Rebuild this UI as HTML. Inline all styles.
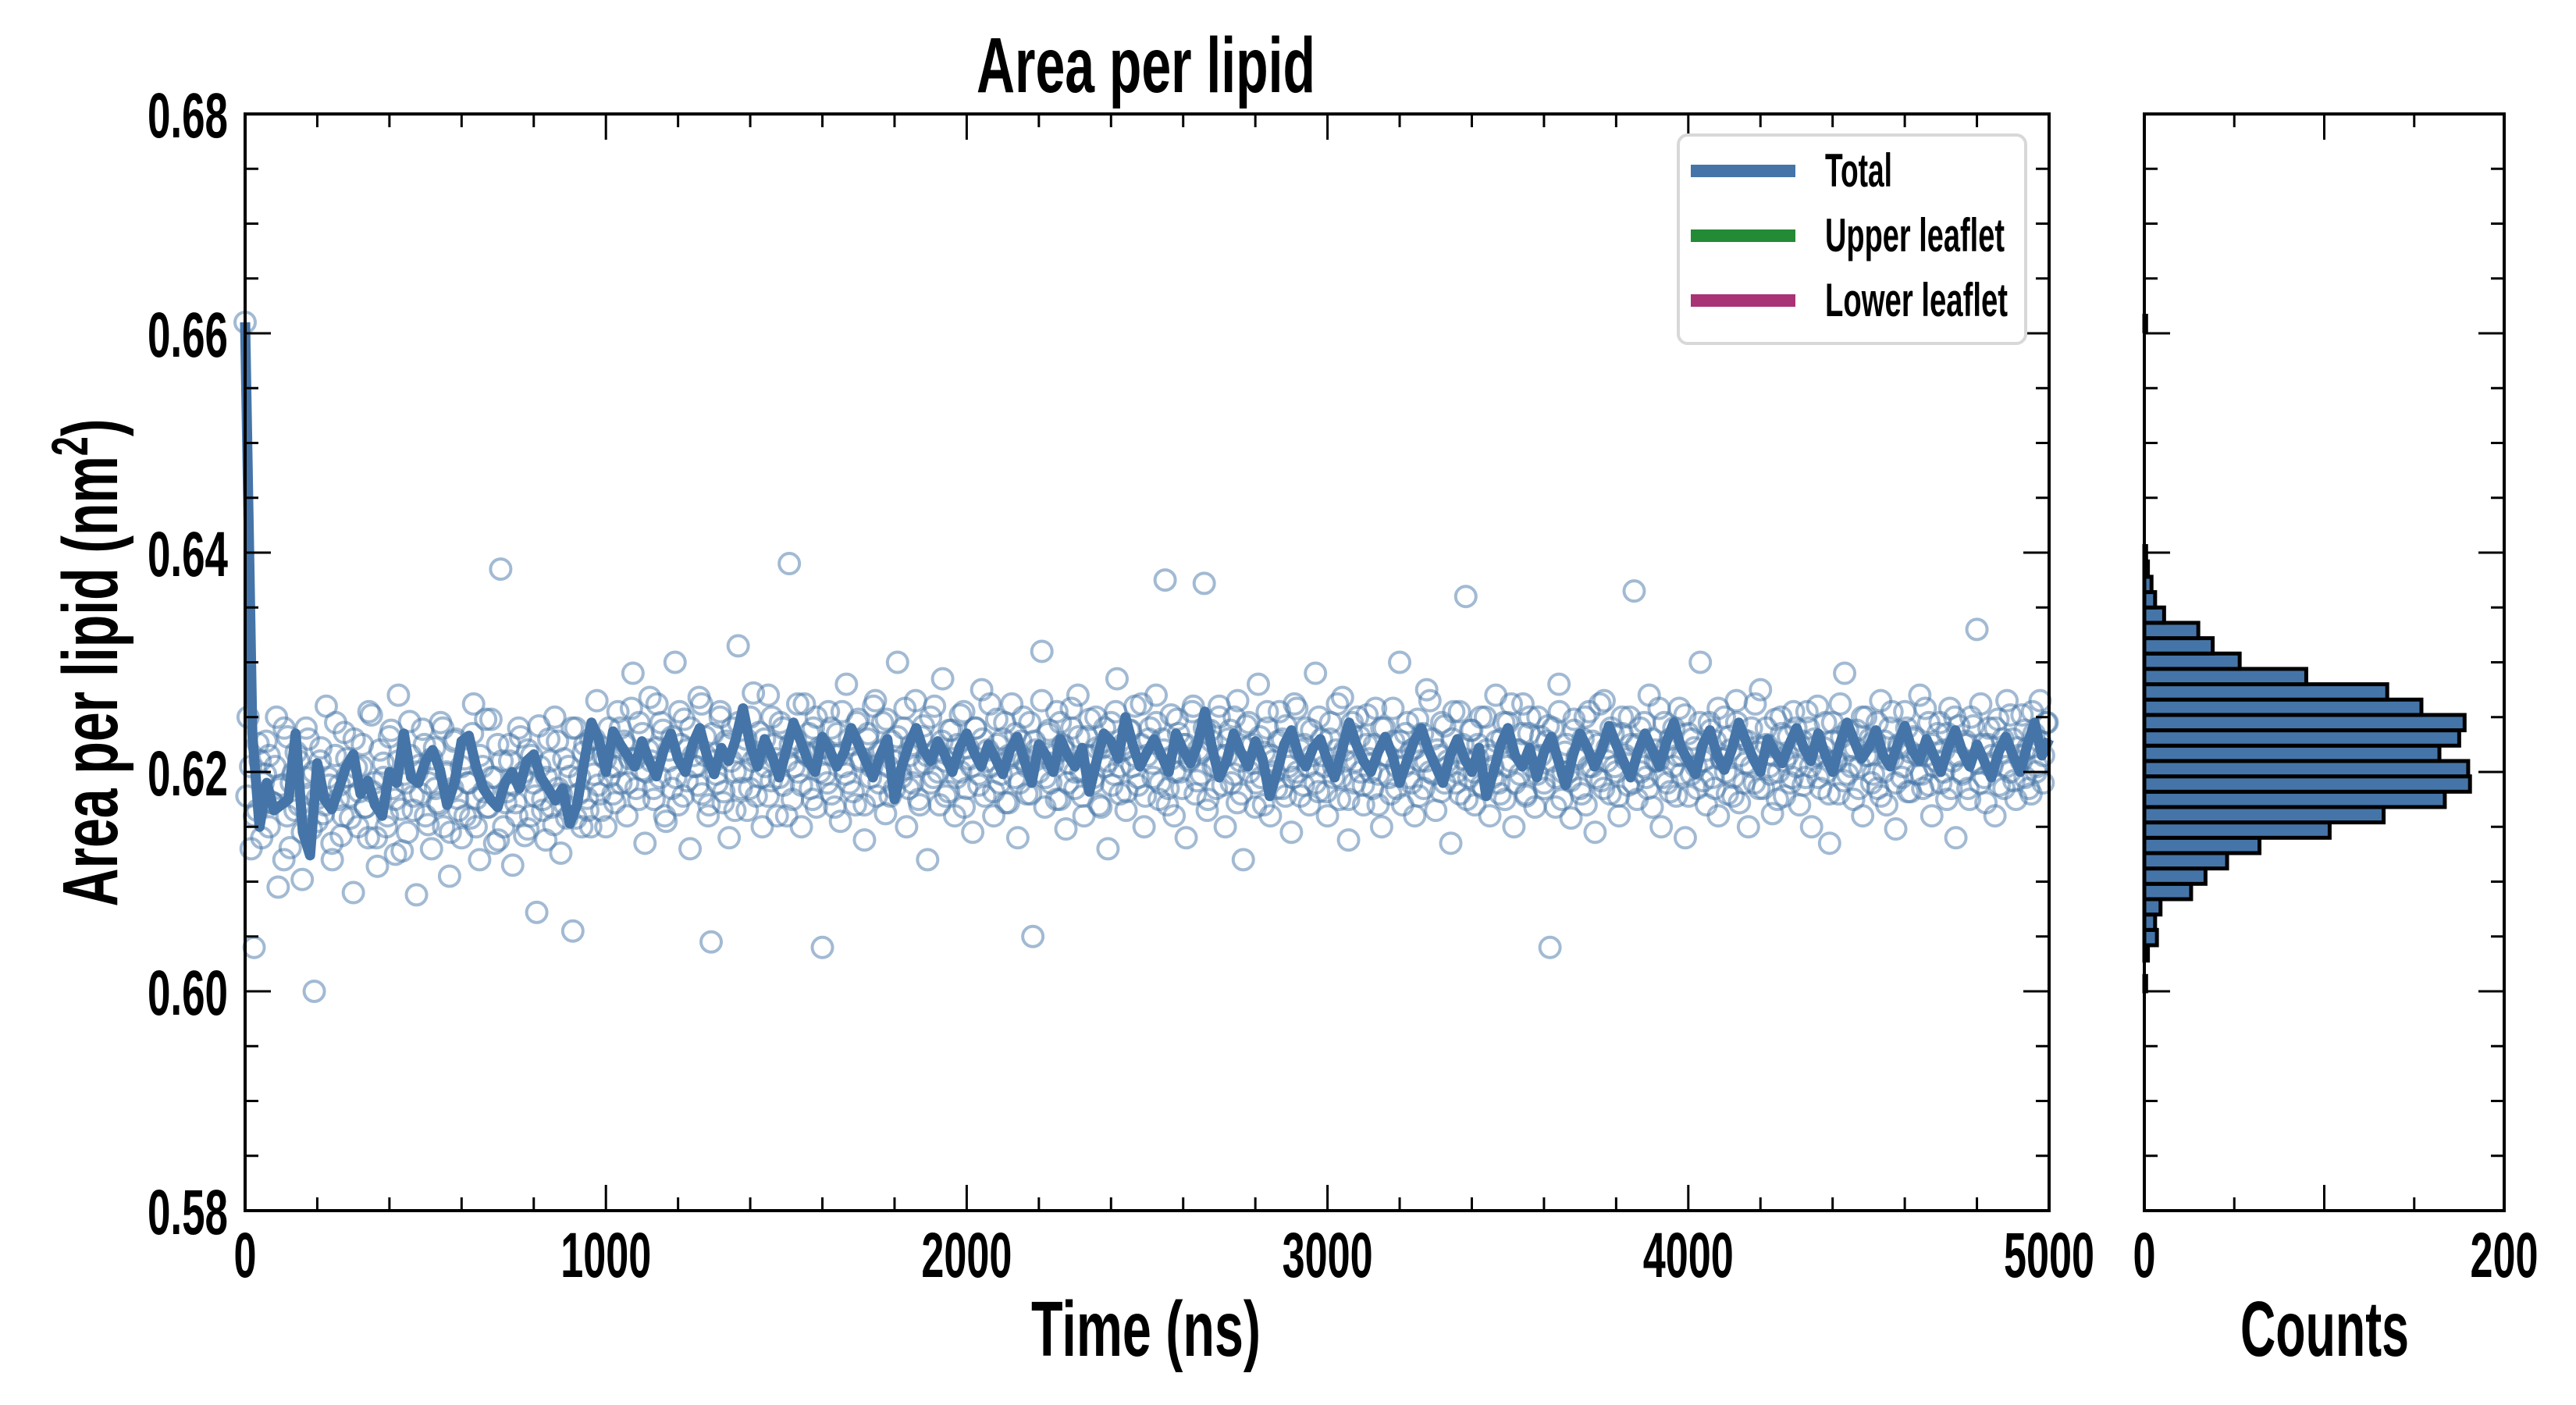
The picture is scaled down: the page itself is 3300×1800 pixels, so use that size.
<!DOCTYPE html>
<html><head><meta charset="utf-8">
<style>
html,body{margin:0;padding:0;background:#fff;}
svg{display:block;}
text{font-family:"Liberation Sans Narrow","Liberation Sans",sans-serif;font-weight:bold;fill:#000;}
</style></head>
<body>
<svg id="chart" xmlns="http://www.w3.org/2000/svg" width="3300" height="1800" viewBox="0 0 3300 1800">
<rect width="3300" height="1800" fill="#fff"/>
<text x="1468" y="118" font-size="100" text-anchor="middle" textLength="434" lengthAdjust="spacingAndGlyphs">Area per lipid</text>
<text x="1468" y="1737" font-size="100" text-anchor="middle" textLength="294" lengthAdjust="spacingAndGlyphs">Time (ns)</text>
<text x="2978" y="1737" font-size="100" text-anchor="middle" textLength="216" lengthAdjust="spacingAndGlyphs">Counts</text>
<text transform="translate(150,849) rotate(-90)" font-size="100" text-anchor="middle" textLength="625" lengthAdjust="spacingAndGlyphs">Area per lipid (nm<tspan font-size="66" dy="-38">2</tspan><tspan dy="38">)</tspan></text>
<g id="main"></g>
<g id="hist"></g>
<g>
<rect x="2150" y="173" width="445" height="267" rx="12" fill="#fff" stroke="#d8d8d8" stroke-width="4"/>
<rect x="2166" y="211" width="134" height="16" fill="#4575a8"/>
<text x="2338" y="239" font-size="60" textLength="86" lengthAdjust="spacingAndGlyphs">Total</text>
<rect x="2166" y="294" width="134" height="16" fill="#238a35"/>
<text x="2338" y="322" font-size="60" textLength="230" lengthAdjust="spacingAndGlyphs">Upper leaflet</text>
<rect x="2166" y="377" width="134" height="16" fill="#a83375"/>
<text x="2338" y="405" font-size="60" textLength="234" lengthAdjust="spacingAndGlyphs">Lower leaflet</text>
</g>
</svg>
<script>
// ---- data (values in units of 0.0001 nm^2 above 0.60) ----
const yTickLabels = ["0.58","0.60","0.62","0.64","0.66","0.68"];
const xTickLabels = ["0","1000","2000","3000","4000","5000"];
const histTickLabels = ["0","200"];
const timeMax = 5000;
const scatterValues = [
610,250,130,40,165,210,190,228,150,172,205,95,188,240,160,131,199,218,170,102,
195,230,148,0,176,210,162,260,188,120,215,175,142,236,196,158,90,204,182,225,
168,140,252,190,114,176,208,150,232,185,125,270,166,198,145,215,178,88,206,239,
160,190,130,222,172,245,150,200,105,185,230,165,140,212,190,158,262,176,120,205,
248,168,195,135,225,385,150,182,210,115,172,240,195,142,220,160,190,72,205,175,
138,230,168,250,185,126,212,158,196,55,240,180,150,225,165,
230,198,265,180,215,150,240,205,172,255,190,228,160,212,290,185,245,202,135,220,
210,175,262,195,238,155,220,185,300,170,225,248,192,130,215,205,268,180,232,160,
45,210,190,255,172,228,140,240,200,315,185,220,165,250,210,178,236,150,205,270,
192,225,160,245,188,210,390,175,230,200,150,262,215,185,240,168,222,40,198,255,
180,215,235,155,205,280,190,225,170,248,212,138,230,195,260,178,218,245,162,205,
228,185,300,200,240,150,215,190,265,175,232,208,120,250,195,220,170,285,210,182,
238,160,225,200,255,185,212,145,240,198,275,178,220,205,160,248,190,230,172,215,
262,195,140,228,210,180,245,50,220,200,310,168,235,190,215,255,175,225,148,208,
240,185,270,200,160,232,215,190,250,170,222,205,130,245,198,285,180,220,165,238,
205,260,188,225,150,215,240,195,270,175,230,375,185,212,160,248,200,225,140,210,
255,180,220,198,372,165,238,205,185,260,215,150,230,190,250,172,210,120,242,200,
225,168,280,195,218,240,160,210,185,255,230,178,205,145,262,200,220,188,240,170,
215,290,182,230,205,160,245,195,220,175,268,210,138,235,190,250,200,170,225,212,
185,258,198,150,240,215,180,228,205,300,170,235,195,220,160,248,210,185,275,200,
230,165,215,245,190,210,135,255,200,180,225,360,195,238,170,212,250,185,220,160,
205,270,190,230,175,245,210,150,220,198,262,180,235,205,168,250,215,190,228,40,
240,195,280,175,218,200,158,248,212,185,230,170,255,205,145,225,192,265,210,180,
235,200,160,250,215,188,225,365,175,240,205,195,270,168,220,210,150,245,190,230,
205,178,258,215,140,235,198,222,185,300,210,170,245,195,228,160,212,250,180,220,
195,265,172,230,208,150,240,190,218,275,185,225,205,162,248,200,235,178,215,190,
255,205,170,228,195,240,150,215,260,185,222,200,135,245,210,180,232,290,198,220,
175,238,205,160,250,215,190,228,185,265,200,170,240,212,148,225,195,255,182,218,
230,198,270,185,215,245,160,205,235,190,220,175,258,210,140,242,200,225,185,250,
210,330,190,225,172,240,205,160,248,218,185,265,200,230,175,215,252,195,222,180,
235,205,265,190,245];
const scatterValues2 = [
178,205,160,226,140,198,215,172,250,185,120,232,190,165,210,145,240,180,200,155,
222,170,195,135,245,188,160,212,178,230,150,205,168,255,182,140,220,195,160,238,
175,210,128,190,246,165,200,180,225,152,212,185,170,240,198,145,228,176,205,160,
190,235,150,215,182,168,248,195,138,210,172,225,188,160,232,200,148,215,178,242,
165,195,210,152,228,180,170,205,240,158,195,218,176,150,230,188,165,212,196,180,
205,240,225,190,258,212,175,235,200,268,185,222,245,160,210,232,195,255,178,220,
240,205,188,262,215,170,235,198,250,182,225,210,165,245,200,230,185,272,215,195,
230,178,250,212,195,240,160,225,205,262,188,218,235,175,250,200,222,190,240,168,
215,255,198,230,182,245,210,170,235,205,265,190,220,248,178,210,232,195,258,185,
225,205,170,242,215,190,260,200,228,178,238,212,195,252,168,222,205,240,188,230,
210,262,182,225,198,245,172,215,235,190,250,205,180,228,215,265,195,238,208,175,
245,220,190,258,200,232,178,215,248,195,222,168,240,210,188,255,205,225,182,238,
215,195,262,178,230,208,245,190,220,170,252,200,235,185,225,212,260,192,218,240,
175,228,205,250,188,215,238,198,265,180,222,245,208,190,232,170,255,215,200,228,
185,242,210,195,258,178,225,205,238,190,250,215,182,230,205,262,195,220,175,245,
210,232,188,252,200,225,170,240,215,195,258,185,228,205,245,190,222,178,235,210,
265,198,220,182,242,205,230,190,255,212,175,238,200,225,188,250,215,195,228,180,
245,205,262,190,220,235,178,250,212,198,232,185,242,210,168,255,200,225,192,238,
215,180,250,205,228,195,262,185,222,240,205,178,235,212,250,190,225,200,245,185,
230,210,258,195,222,182,240,215,198,252,178,230,205,245,192,220,238,185,258,212,
200,232,178,245,215,190,228,205,262,185,222,240,198,215,175,250,210,232,195,240,
225,188,255,205,230,195,215,245,180,228,210,262,192,238,205,222,185,250,215,230,
198,245,178,228,212,255,190,222,205,240,182,232,215,198,258,188,225,210,245,200,
235,185,250,215,198,228,175,242,208,262,195,225,215,240,188,230,205,252,192,222,
210,238,185,255,200,228,215,245];
const lineValues = [
610,235,150,190,165,170,175,235,145,124,208,175,166,185,205,216,180,192,170,160,
200,190,235,195,190,210,220,202,170,190,228,233,205,185,175,168,190,200,185,210,
216,195,185,174,185,153,170,210,245,230,200,237,225,215,205,228,210,196,220,235,
212,200,225,240,215,198,222,210,230,258,225,205,230,215,195,220,245,228,210,200,
232,220,205,218,240,225,210,195,215,230,175,205,225,240,220,210,228,215,200,222,
235,218,205,225,212,198,220,232,210,190,225,215,200,230,215,205,222,182,210,235,
228,212,250,225,205,218,230,215,200,235,220,208,225,255,222,195,210,235,218,205,
228,212,178,200,225,238,215,205,222,230,210,195,220,245,225,210,200,218,232,215,
190,210,228,240,220,205,190,215,230,212,200,222,178,200,225,240,215,205,222,195,
218,232,210,188,215,235,222,205,220,242,225,210,195,218,235,220,205,228,245,222,
210,198,225,238,215,202,220,245,228,212,200,230,218,208,225,240,222,210,235,215,
200,225,245,228,212,222,238,215,205,225,242,220,210,230,215,200,222,238,218,205,
225,210,195,218,232,215,200,225,245,215,230];
const histBinStart = 0.600;
const histBinWidth = 0.0014;
const histCounts = [1,0,2,7,6,9,26,34,46,64,103,133,167,181,180,164,175,178,154,135,90,53,38,30,11,6,4,2,1,0,0,0,0,0,0,0,0,0,0,0,0,0,0,1];

// ---- layout ----
const NS = "http://www.w3.org/2000/svg";
const L = 314, R = 2625, T = 146, B = 1551;
const HL = 2747, HR = 3208;
const yMin = 0.58, yMax = 0.68;
function yScale(v){ return B - (v - yMin) / (yMax - yMin) * (B - T); }
function xScale(t){ return L + t / timeMax * (R - L); }
function hScale(c){ return HL + c / 200 * (HR - HL); }
function toVal(u){ return 0.6 + u / 10000; }
function mk(tag, attrs, parent){
  const e = document.createElementNS(NS, tag);
  for (const k in attrs) e.setAttribute(k, attrs[k]);
  parent.appendChild(e); return e;
}
const main = document.getElementById('main');
const hist = document.getElementById('hist');

// scatter
const sg = mk('g', {}, main);


function drawScatter(vals, offset){
  const step = timeMax / vals.length;
  vals.forEach((u, i) => {
    const c = mk('circle', {cx: xScale(Math.min(timeMax, i * step + offset * step)), cy: yScale(toVal(u)), r: 13, fill: 'none', stroke: '#4575a8', 'stroke-opacity': 0.5, 'stroke-width': 4}, sg);
    
    
  });
}
drawScatter(scatterValues, 0);
drawScatter(scatterValues2, 0.5);

// running average line
const lt = timeMax / (lineValues.length - 1);
const d = lineValues.map((u, i) => (i ? 'L' : 'M') + xScale(i * lt).toFixed(1) + ',' + yScale(toVal(u)).toFixed(1)).join(' ');
const line = mk('path', {d: d, fill: 'none', stroke: '#4575a8', 'stroke-width': 13, 'stroke-linejoin': 'round'}, main);



// main frame
const frame = mk('rect', {x: L, y: T, width: R - L, height: B - T, fill: 'none', stroke: '#000', 'stroke-width': 4}, main);



// main ticks
const tg = mk('g', {stroke: '#000', 'stroke-width': 3}, main);


for (let t = 0; t <= timeMax; t += 200) {
  const x = xScale(t), len = (t % 1000 === 0) ? 33 : 17;
  mk('line', {x1: x, y1: B, x2: x, y2: B - len}, tg);
  mk('line', {x1: x, y1: T, x2: x, y2: T + len}, tg);
}
for (let k = 0; k <= 20; k++) {
  const v = yMin + k * 0.005, y = yScale(v), len = (k % 4 === 0) ? 33 : 17;
  mk('line', {x1: L, y1: y, x2: L + len, y2: y}, tg);
  mk('line', {x1: R, y1: y, x2: R - len, y2: y}, tg);
  mk('line', {x1: HL, y1: y, x2: HL + len, y2: y}, tg);
  mk('line', {x1: HR, y1: y, x2: HR - len, y2: y}, tg);
}
yTickLabels.forEach((s, i) => {
  const tx = mk('text', {x: 292, y: yScale(yMin + i * 0.02) + 30, 'font-size': 82, 'text-anchor': 'end', textLength: 103, lengthAdjust: 'spacingAndGlyphs'}, main);
  tx.textContent = s;
  
  
});
xTickLabels.forEach((s, i) => {
  const tx = mk('text', {x: xScale(i * 1000), y: 1636, 'font-size': 82, 'text-anchor': 'middle', textLength: s.length * 29, lengthAdjust: 'spacingAndGlyphs'}, main);
  tx.textContent = s;
  
  
});

// histogram
const hb = mk('g', {}, hist);


histCounts.forEach((c, i) => {
  if (!c) return;
  const v0 = histBinStart + i * histBinWidth, v1 = v0 + histBinWidth;
  const y1 = yScale(v1), y0 = yScale(v0);
  const r = mk('rect', {x: HL, y: y1, width: hScale(c) - HL, height: y0 - y1, fill: '#4575a8', stroke: '#000', 'stroke-width': 5}, hb);
  
  
});
const hf = mk('rect', {x: HL, y: T, width: HR - HL, height: B - T, fill: 'none', stroke: '#000', 'stroke-width': 4}, hist);


const htg = mk('g', {stroke: '#000', 'stroke-width': 3}, hist);


for (let c = 50; c < 200; c += 50) {
  const x = hScale(c), len = (c === 100) ? 33 : 17;
  mk('line', {x1: x, y1: B, x2: x, y2: B - len}, htg);
  mk('line', {x1: x, y1: T, x2: x, y2: T + len}, htg);
}
histTickLabels.forEach((s) => {
  const tx = mk('text', {x: hScale(+s), y: 1636, 'font-size': 82, 'text-anchor': 'middle', textLength: s.length * 29, lengthAdjust: 'spacingAndGlyphs'}, hist);
  tx.textContent = s;
  
  
});
</script>
</body></html>
